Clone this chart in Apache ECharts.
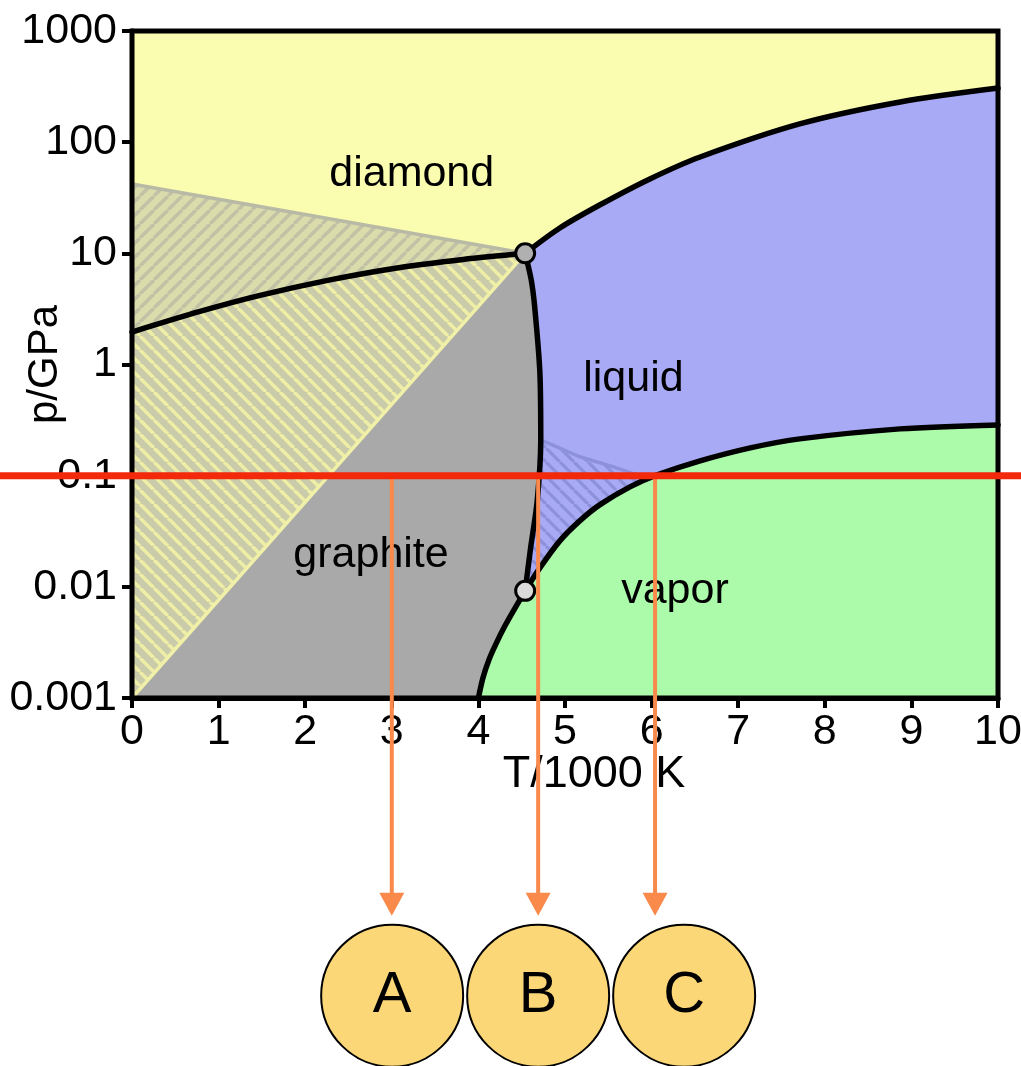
<!DOCTYPE html>
<html>
<head>
<meta charset="utf-8">
<title>Carbon phase diagram</title>
<script src="https://cdn.jsdelivr.net/npm/echarts@6/dist/echarts.min.js"></script>
<style>
  html, body { margin: 0; padding: 0; background: #fff; }
  #chart { width: 1021px; height: 1066px; }
</style>
</head>
<body>
<div id="chart"></div>
<script>
// ---- phase boundaries of carbon, points are [T / 1000 K, p / GPa] ----
const triplePoints = [[4.54, 10], [4.54, 0.0092]];
const graphiteDiamond = [[0, 1.96], [0.785, 3.00], [1.478, 4.18], [2.286, 5.77], [3.06, 7.39], [3.822, 8.81], [4.54, 10]];
const diamondLiquid = [[4.54, 10], [4.94, 16.9], [5.40, 27.2], [5.98, 46.7], [6.56, 73.6], [7.71, 146], [8.87, 230], [10, 307]];
const graphiteLiquid = [[4.54, 10], [4.61, 5.77], [4.65, 3.30], [4.71, 0.84], [4.72, 0.21], [4.68, 0.0605], [4.60, 0.0215], [4.54, 0.0092]];
const graphiteVapor = [[4.00, 0.001], [4.053, 0.00152], [4.122, 0.00221], [4.203, 0.00307], [4.307, 0.00446], [4.411, 0.00621], [4.54, 0.0092]];
const liquidVapor = [[4.54, 0.0092], [4.71, 0.0148], [4.94, 0.0259], [5.17, 0.0392], [5.40, 0.0546], [5.75, 0.0793], [6.04, 0.1], [6.56, 0.1358], [7.14, 0.1778], [7.71, 0.2143], [8.87, 0.2636], [10, 0.2863]];

// metastable extensions (hatched areas)
const metaGraphiteInDiamond = [[0, 42], [4.54, 10]];
const metaDiamondInGraphite = [[0, 0.001], [4.54, 10]];
const metaLiquid = [[4.72, 0.21], [5.17, 0.148], [5.56, 0.120], [5.83, 0.1016], [6.04, 0.1]];

// phase names and where they sit
const regionNames = ['diamond', 'liquid', 'graphite', 'vapor'];
const regionLabelAt = [[3.23, 51.8], [5.79, 0.74], [2.76, 0.0194], [6.27, 0.0092]];

// axes
const xTicks = [0, 1, 2, 3, 4, 5, 6, 7, 8, 9, 10];
const yTickLabels = ['0.001', '0.01', '0.1', '1', '10', '100', '1000'];

// the isobar at 1 atm and the three marked temperatures on it
const isobarP = 0.1;
const markLetters = ['A', 'B', 'C'];
const markT = [3.0, 4.69, 6.04];

const FONT = '"Liberation Sans", Arial, Helvetica, sans-serif';
const T_MIN = xTicks[0], T_MAX = xTicks[xTicks.length - 1];
const P_MIN = 0.001, P_MAX = 1000;

function stripes(bg, fg, forward, lw) {
  const s = 14;
  const c = document.createElement('canvas');
  c.width = s; c.height = s;
  const g = c.getContext('2d');
  g.fillStyle = bg;
  g.fillRect(0, 0, s, s);
  g.strokeStyle = fg;
  g.lineWidth = lw;
  g.beginPath();
  for (const o of [-s, 0, s]) {
    if (forward) { g.moveTo(o, s); g.lineTo(o + s, 0); }
    else { g.moveTo(o, 0); g.lineTo(o + s, s); }
  }
  g.stroke();
  return { image: c, repeat: 'repeat' };
}

const rev = a => a.slice().reverse();

// liquid-vapor curve from the lower triple point up to where the metastable line meets it
const lvLow = liquidVapor.slice(0, liquidVapor.findIndex(p => p[0] >= metaLiquid[metaLiquid.length - 1][0]) + 1);
const glLow = rev(graphiteLiquid).filter(p => p[1] > triplePoints[1][1] && p[1] < metaLiquid[0][1]);

const regions = [
  { fill: '#fafcaf', pts: [[T_MIN, P_MAX], [T_MAX, P_MAX], ...rev(diamondLiquid), ...rev(graphiteDiamond)] },
  { fill: '#a9aaf5', pts: [...diamondLiquid, ...rev(liquidVapor), ...rev(graphiteLiquid)] },
  { fill: '#acfbaa', pts: [...liquidVapor, [T_MAX, P_MIN], ...graphiteVapor] },
  { fill: '#a9a9a9', pts: [[T_MIN, P_MIN], ...graphiteVapor, ...rev(graphiteLiquid), ...rev(graphiteDiamond)] },
  { fill: stripes('#dbdcab', '#c0c1a5', true, 3.4), pts: [...metaGraphiteInDiamond, ...rev(graphiteDiamond)] },
  { fill: stripes('#c9cbaa', '#eeeea6', false, 3.6), pts: [...metaDiamondInGraphite, ...rev(graphiteDiamond)] },
  { fill: stripes('#a9aaf5', '#8d91d9', false, 3.2), pts: [...metaLiquid, ...rev(lvLow), ...glLow] }
];

const boundaryLines = [graphiteDiamond, diamondLiquid, graphiteLiquid, graphiteVapor, liquidVapor];
const metaLines = [
  { data: metaGraphiteInDiamond, color: '#b9baa6' },
  { data: metaDiamondInGraphite, color: '#f0f0a8' },
  { data: metaLiquid, color: '#8d91d9' }
];

const chart = echarts.init(document.getElementById('chart'), null, { renderer: 'canvas' });

const series = [];

// filled phase areas
series.push({
  type: 'custom',
  coordinateSystem: 'cartesian2d',
  silent: true,
  z: 1,
  data: regions.map(r => r.pts[0]),
  renderItem: (params, api) => {
    const r = regions[params.dataIndex];
    const solid = typeof r.fill === 'string';
    return {
      type: 'polygon',
      shape: { points: r.pts.map(p => api.coord(p)) },
      style: solid ? { fill: r.fill, stroke: r.fill, lineWidth: 1 } : { fill: r.fill }
    };
  }
});

// metastable boundaries
metaLines.forEach(m => series.push({
  type: 'line', data: m.data, showSymbol: false, symbol: 'none', silent: true, z: 3,
  lineStyle: { color: m.color, width: 3.5 }
}));

// coexistence curves
boundaryLines.forEach(d => series.push({
  type: 'line', data: d, showSymbol: false, symbol: 'none', silent: true, z: 4, smooth: 0.3,
  lineStyle: { color: '#000', width: 5.5, cap: 'round', join: 'round' }
}));

// plot frame
series.push({
  type: 'custom', coordinateSystem: 'cartesian2d', silent: true, z: 6, clip: false,
  data: [[T_MIN, P_MAX]],
  renderItem: (params, api) => {
    const a = api.coord([T_MIN, P_MAX]);
    const b = api.coord([T_MAX, P_MIN]);
    return { type: 'rect', shape: { x: a[0], y: a[1], width: b[0] - a[0], height: b[1] - a[1] },
             style: { fill: 'none', stroke: '#000', lineWidth: 5 } };
  }
});

// triple points
series.push({
  type: 'scatter', silent: true, z: 7, symbol: 'circle', symbolSize: 19,
  data: [
    { value: triplePoints[0], itemStyle: { color: '#b0b0b0' } },
    { value: triplePoints[1], itemStyle: { color: '#dadada' } }
  ],
  itemStyle: { borderColor: '#000', borderWidth: 3, opacity: 1 }
});

// phase names
series.push({
  type: 'custom', coordinateSystem: 'cartesian2d', silent: true, z: 8,
  data: regionLabelAt,
  renderItem: (params, api) => {
    const p = api.coord(regionLabelAt[params.dataIndex]);
    return { type: 'text', x: p[0], y: p[1],
             style: { text: regionNames[params.dataIndex], fill: '#000', font: '43px ' + FONT,
                      align: 'center', verticalAlign: 'middle' } };
  }
});

// isobar
series.push({
  type: 'custom', coordinateSystem: 'cartesian2d', silent: true, z: 30, clip: false,
  data: [[T_MIN, isobarP]],
  renderItem: (params, api) => {
    const y = api.coord([T_MIN, isobarP])[1];
    return { type: 'line', shape: { x1: 0, y1: y, x2: api.getWidth(), y2: y },
             style: { stroke: '#f2290b', lineWidth: 7 } };
  }
});

// arrows down to the lettered discs
series.push({
  type: 'custom', coordinateSystem: 'cartesian2d', silent: true, z: 29, clip: false,
  data: markT.map(t => [t, isobarP]),
  renderItem: (params, api) => {
    const i = params.dataIndex;
    const p = api.coord([markT[i], isobarP]);
    const mid = api.coord([markT[1], isobarP]);
    const x = p[0], y0 = p[1];
    const tip = y0 + 440, head = 23, hw = 12.5;
    const r = 71;
    const cx = mid[0] + (i - 1) * (2 * r + 4);
    const cy = y0 + 520;
    return {
      type: 'group',
      children: [
        { type: 'line', shape: { x1: x, y1: y0 + 3, x2: x, y2: tip - head + 2 },
          style: { stroke: '#f98a4c', lineWidth: 4 } },
        { type: 'polygon', shape: { points: [[x - hw, tip - head], [x + hw, tip - head], [x, tip]] },
          style: { fill: '#f98a4c' } },
        { type: 'circle', shape: { cx: cx, cy: cy, r: r },
          style: { fill: '#fbd778', stroke: '#000', lineWidth: 2 } },
        { type: 'text', x: cx, y: cy,
          style: { text: markLetters[i], fill: '#000', font: '58px ' + FONT, align: 'center', verticalAlign: 'middle' } }
      ]
    };
  }
});

chart.setOption({
  animation: false,
  backgroundColor: '#fff',
  grid: { left: 132, right: 23, top: 31, bottom: 368, containLabel: false, outerBoundsMode: 'none' },
  xAxis: {
    type: 'value', min: T_MIN, max: T_MAX, interval: 1,
    axisLine: { show: true, onZero: false, lineStyle: { color: '#000', width: 5 } },
    axisTick: { show: true, inside: false, length: 10, lineStyle: { color: '#000', width: 4 } },
    axisLabel: { color: '#000', fontSize: 43, fontFamily: FONT, margin: 13, hideOverlap: false,
                 showMinLabel: true, showMaxLabel: true },
    splitLine: { show: false },
    name: 'T/1000 K', nameLocation: 'middle', nameGap: 54, nameMoveOverlap: false,
    nameTextStyle: { color: '#000', fontSize: 45, fontFamily: FONT, padding: [0, 0, 0, 58] }
  },
  yAxis: {
    type: 'log', logBase: 10, min: P_MIN, max: P_MAX, splitNumber: 6,
    axisLine: { show: true, onZero: false, lineStyle: { color: '#000', width: 5 } },
    axisTick: { show: true, inside: false, length: 10, lineStyle: { color: '#000', width: 4 } },
    axisLabel: {
      color: '#000', fontSize: 43, fontFamily: FONT, margin: 15, hideOverlap: false,
      showMinLabel: true, showMaxLabel: true,
      formatter: v => yTickLabels[Math.round(Math.log10(v)) + 3] || ''
    },
    splitLine: { show: false },
    name: 'p/GPa', nameLocation: 'middle', nameRotate: 90, nameGap: 66, nameMoveOverlap: false,
    nameTextStyle: { color: '#000', fontSize: 42, fontFamily: FONT }
  },
  series: series
});
</script>
</body>
</html>
